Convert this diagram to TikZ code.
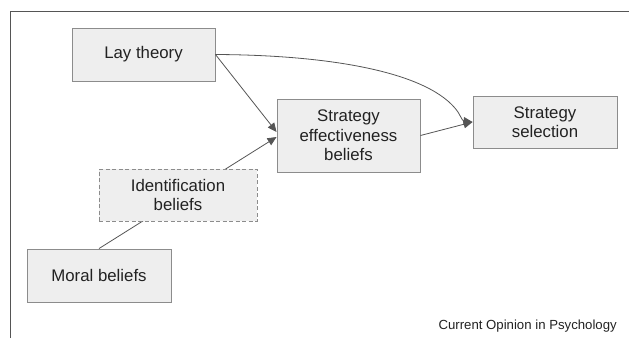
\documentclass[tikz,border=0pt]{standalone}
\usepackage{fontspec}
\setmainfont{Liberation Sans}
\usetikzlibrary{arrows.meta,backgrounds}
\definecolor{boxfill}{HTML}{EEEEEE}
\definecolor{boxdraw}{HTML}{8C8C8C}
\definecolor{linec}{HTML}{555555}
\definecolor{txt}{HTML}{222222}
\begin{document}
\begin{tikzpicture}[x=1pt,y=-1pt,
  box/.style={draw=boxdraw, fill=boxfill, line width=0.9pt, text=txt, align=center,
    font=\fontsize{16.8}{19.5}\selectfont, inner sep=0pt},
  dbox/.style={box, dash pattern=on 4pt off 2.5pt},
  conn/.style={draw=linec, line width=0.8pt},
  arr/.style={conn, -{Triangle[length=9pt,width=8pt]}}]
\useasboundingbox (0,0) rectangle (629,338);
\draw[linec, line width=1pt] (10,338) -- (10,11) -- (629,11);

\node[box, minimum width=143pt, minimum height=53pt] (lt) at (143.5,54.5) {Lay theory};
\node[box, minimum width=143pt, minimum height=73pt] (se) at (348.5,135.5) {Strategy\\effectiveness\\beliefs};
\node[box, minimum width=144pt, minimum height=52pt] (ss) at (545,122) {Strategy\\selection};
\node[dbox, minimum width=158pt, minimum height=52pt] (ib) at (178,195) {Identification\\beliefs};
\node[box, minimum width=144pt, minimum height=53pt] (mb) at (99,275.5) {Moral beliefs};

\begin{scope}[on background layer]
\draw[arr] (mb.north) -- ([yshift=-1.5pt]se.west);
\end{scope}
\draw[arr] (lt.east) -- ([yshift=3.5pt]se.west);
\draw[arr] (se.east) -- (ss.west);
\draw[arr] (lt.east) .. controls (330,55) and (430,72) .. (458,112) .. controls (463,121) .. (ss.west);

\node[anchor=base east, font=\fontsize{13.2}{15}\selectfont, text=txt, inner sep=0pt] (cap) at (617,329) {Current Opinion in Psychology};
\end{tikzpicture}
\end{document}
